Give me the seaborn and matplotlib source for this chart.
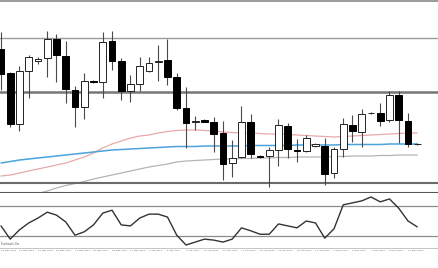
import numpy as np
import pandas as pd
import seaborn as sns
import matplotlib
matplotlib.use("Agg")
import matplotlib.pyplot as plt

sns.set_style("white")
plt.rcParams['font.family'] = ['DejaVu Sans']

# ---- Data (daily candles, Mar-May 2012) ----
opens = [1.3302, 1.3254, 1.3152, 1.3258, 1.3278, 1.3284, 1.3322, 1.3288, 1.3220, 1.3186,
         1.3238, 1.3236, 1.3318, 1.3278, 1.3218, 1.3232, 1.3258, 1.3276, 1.3280, 1.3246,
         1.3184, 1.3156, 1.3160, 1.3156, 1.3134, 1.3074, 1.3086, 1.3156, 1.3088, 1.3088,
         1.3100, 1.3148, 1.3100, 1.3098, 1.3108, 1.3108, 1.3054, 1.3102, 1.3150, 1.3136,
         1.3174, 1.3174, 1.3160, 1.3210, 1.3158, 1.3112]
highs = [1.3336, 1.3256, 1.3268, 1.3290, 1.3286, 1.3338, 1.3332, 1.3318, 1.3228, 1.3254,
         1.3240, 1.3336, 1.3338, 1.3284, 1.3250, 1.3286, 1.3286, 1.3310, 1.3322, 1.3254,
         1.3226, 1.3168, 1.3162, 1.3166, 1.3158, 1.3120, 1.3188, 1.3172, 1.3090, 1.3106,
         1.3162, 1.3154, 1.3122, 1.3130, 1.3114, 1.3124, 1.3106, 1.3164, 1.3170, 1.3182,
         1.3176, 1.3194, 1.3218, 1.3218, 1.3174, 1.3114]
lows = [1.3220, 1.3146, 1.3138, 1.3204, 1.3272, 1.3246, 1.3236, 1.3194, 1.3146, 1.3162,
        1.3234, 1.3204, 1.3260, 1.3200, 1.3196, 1.3218, 1.3256, 1.3238, 1.3230, 1.3180,
        1.3104, 1.3140, 1.3156, 1.3096, 1.3040, 1.3046, 1.3084, 1.3084, 1.3084, 1.3026,
        1.3068, 1.3084, 1.3076, 1.3096, 1.3106, 1.3030, 1.3044, 1.3086, 1.3116, 1.3106,
        1.3172, 1.3148, 1.3156, 1.3114, 1.3106, 1.3110]
closes = [1.3252, 1.3152, 1.3258, 1.3286, 1.3282, 1.3322, 1.3290, 1.3222, 1.3186, 1.3238,
          1.3236, 1.3316, 1.3278, 1.3218, 1.3232, 1.3268, 1.3274, 1.3278, 1.3246, 1.3184,
          1.3154, 1.3158, 1.3156, 1.3132, 1.3072, 1.3084, 1.3156, 1.3092, 1.3086, 1.3100,
          1.3150, 1.3102, 1.3098, 1.3124, 1.3112, 1.3052, 1.3102, 1.3152, 1.3138, 1.3172,
          1.3174, 1.3158, 1.3210, 1.3160, 1.3112, 1.3112]

ma_blue = [1.3074, 1.3077, 1.3080, 1.3082, 1.3084, 1.3086, 1.3088, 1.3090, 1.3092, 1.3094,
           1.3096, 1.3098, 1.3100, 1.3101, 1.3102, 1.3103, 1.3104, 1.3105, 1.3106, 1.3107,
           1.3107, 1.3107, 1.3108, 1.3108, 1.3108, 1.3108, 1.3108, 1.3109, 1.3109, 1.3109,
           1.3109, 1.3109, 1.3110, 1.3110, 1.3110, 1.3110, 1.3110, 1.3111, 1.3111, 1.3111,
           1.3111, 1.3111, 1.3112, 1.3112, 1.3112, 1.3112]
ma_pink = [1.3048, 1.3050, 1.3054, 1.3058, 1.3062, 1.3066, 1.3070, 1.3074, 1.3080, 1.3086,
           1.3094, 1.3104, 1.3112, 1.3118, 1.3124, 1.3128, 1.3130, 1.3134, 1.3137, 1.3139,
           1.3140, 1.3140, 1.3139, 1.3138, 1.3136, 1.3135, 1.3134, 1.3134, 1.3133, 1.3132,
           1.3132, 1.3131, 1.3130, 1.3129, 1.3128, 1.3127, 1.3126, 1.3127, 1.3128, 1.3129,
           1.3130, 1.3131, 1.3132, 1.3133, 1.3134, 1.3134]
ma_gray = [1.2990, 1.2996, 1.3002, 1.3008, 1.3013, 1.3018, 1.3024, 1.3029, 1.3033, 1.3037,
           1.3042, 1.3046, 1.3050, 1.3054, 1.3058, 1.3062, 1.3066, 1.3069, 1.3072, 1.3076,
           1.3078, 1.3079, 1.3080, 1.3081, 1.3082, 1.3082, 1.3083, 1.3083, 1.3084, 1.3084,
           1.3085, 1.3085, 1.3086, 1.3086, 1.3086, 1.3086, 1.3087, 1.3087, 1.3088, 1.3088,
           1.3088, 1.3089, 1.3089, 1.3090, 1.3090, 1.3090]

h_levels = [1.3324, 1.3216, 1.3034]

stoch = [40, 13, 32, 46, 56, 68, 62, 48, 21, 28, 42, 66, 72, 42, 40, 56, 64, 64, 58, 21,
         1, 7, 13, 11, 7, 13, 36, 30, 23, 23, 44, 40, 36, 50, 46, 15, 34, 83, 87, 91,
         99, 89, 95, 76, 50, 38]
stoch_levels = [80, 20]

date_labels = ["12 Mar 2012", "14 Mar 2012", "16 Mar 2012", "20 Mar 2012", "22 Mar 2012",
               "26 Mar 2012", "28 Mar 2012", "30 Mar 2012", "3 Apr 2012", "5 Apr 2012",
               "9 Apr 2012", "11 Apr 2012", "13 Apr 2012", "17 Apr 2012", "19 Apr 2012",
               "23 Apr 2012", "25 Apr 2012", "27 Apr 2012", "1 May 2012", "3 May 2012",
               "7 May 2012", "9 May 2012", "11 May 2012"]

# ---- Figure ----
W, H = 439, 268
fig = plt.figure(figsize=(W / 100, H / 100), dpi=100)
fig.patch.set_facecolor("white")
ax = fig.add_axes([0, 1 - 193 / H, 1, 192 / H])
axs = fig.add_axes([0, 1 - 248 / H, 1, 55 / H])

n = len(opens)
idx = np.arange(n)
step = 9.25
xlim = (-1 / step, (W - 1) / step)

df = pd.DataFrame({"i": idx, "o": opens, "h": highs, "l": lows, "c": closes,
                   "blue": ma_blue, "pink": ma_pink, "gray": ma_gray, "stoch": stoch})

# moving averages
sns.lineplot(data=df, x="i", y="gray", ax=ax, color="#b4b4b4", linewidth=0.9, zorder=1)
sns.lineplot(data=df, x="i", y="pink", ax=ax, color="#e9a9a9", linewidth=0.9, zorder=1)
sns.lineplot(data=df, x="i", y="blue", ax=ax, color="#4aa3dc", linewidth=1.1, zorder=1)

for lv, col, lw in zip(h_levels, ["#9a9a9a", "#777777", "#6a6a6a"], [1.0, 1.8, 1.5]):
    ax.axhline(lv, color=col, linewidth=lw, zorder=2)

# candles
up = df["c"] >= df["o"]
ax.vlines(df["i"], df["l"], df["h"], color="#4a4a4a", linewidth=0.8, zorder=3)
body_bottom = np.minimum(df["o"], df["c"])
body_h = np.abs(df["c"] - df["o"])
ax.bar(df["i"][up], body_h[up], bottom=body_bottom[up], width=0.75,
       color="white", edgecolor="#222222", linewidth=0.7, zorder=4)
ax.bar(df["i"][~up], body_h[~up], bottom=body_bottom[~up], width=0.75,
       color="black", edgecolor="black", linewidth=0.7, zorder=4)

ax.set_xlim(*xlim)
ax.set_ylim(1.3014, 1.3398)
ax.set_xticks([])
ax.set_yticks([])
ax.set_xlabel("")
ax.set_ylabel("")
for s in ["left", "right"]:
    ax.spines[s].set_visible(False)
ax.spines["top"].set_color("#8a8a8a")
ax.spines["top"].set_linewidth(1.2)
ax.spines["bottom"].set_color("#555555")
ax.spines["bottom"].set_linewidth(1.5)

# stochastic pane
for lv in stoch_levels:
    axs.axhline(lv, color="#8c8c8c", linewidth=0.9, zorder=1)
sns.lineplot(data=df, x="i", y="stoch", ax=axs, color="#333333", linewidth=1.0, zorder=3)
axs.set_xlim(*xlim)
axs.set_ylim(-5.1, 107.1)
axs.set_yticks([])
axs.set_xlabel("")
axs.set_ylabel("")
axs.set_xticks(idx[::2][:len(date_labels)] - 0.05)
axs.set_xticklabels(date_labels, fontsize=1.7, color="#555555", ha="left")
axs.tick_params(axis="x", length=0, pad=1.5)
for s in ["left", "right", "top"]:
    axs.spines[s].set_visible(False)
axs.spines["bottom"].set_color("#bbbbbb")
axs.spines["bottom"].set_linewidth(0.6)
axs.text(0.002, 0.04, "Stochastic Osc", transform=axs.transAxes, fontsize=1.8,
         color="#444444", ha="left", va="bottom")

fig.savefig("out.png", dpi=100, facecolor="white")
